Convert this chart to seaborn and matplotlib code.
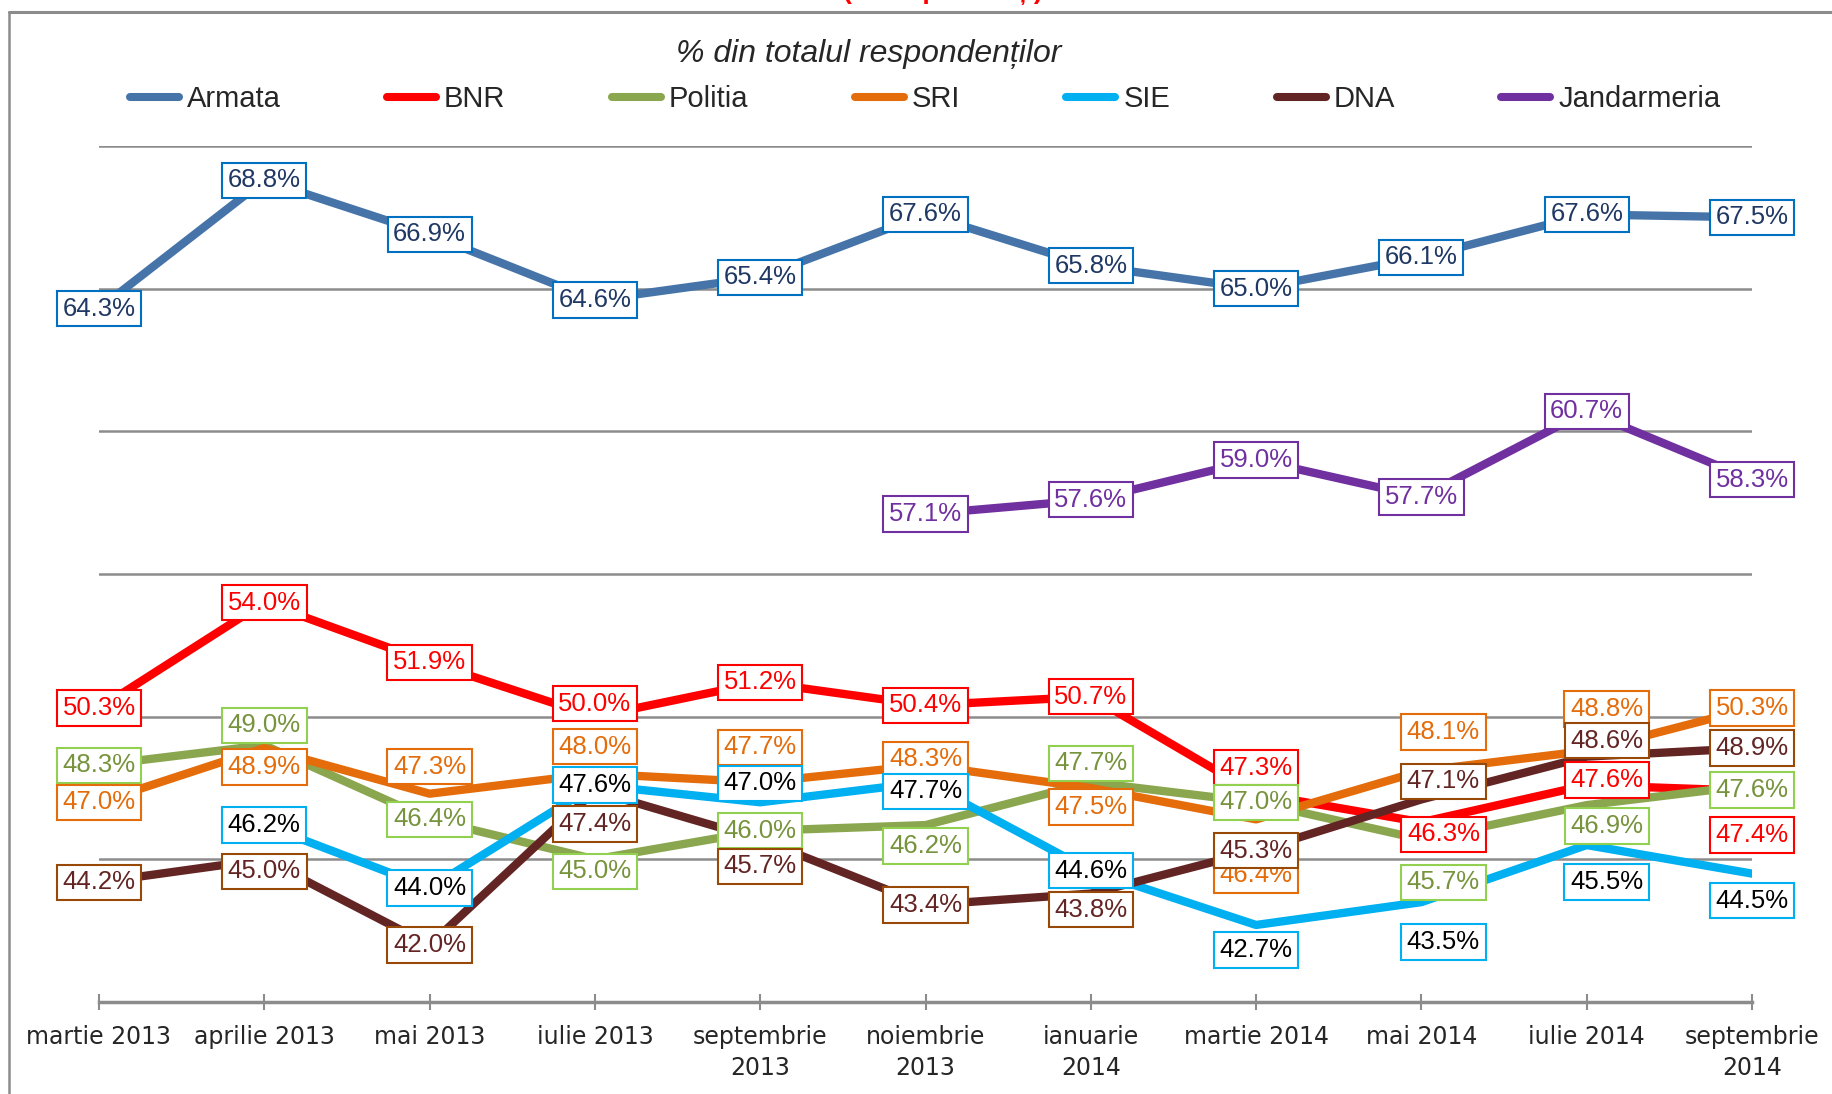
import seaborn as sns
import matplotlib.pyplot as plt
import pandas as pd
import numpy as np
from matplotlib.lines import Line2D

# Data
luni = ["martie 2013", "aprilie 2013", "mai 2013", "iulie 2013", "septembrie 2013",
        "noiembrie 2013", "ianuarie 2014", "martie 2014", "mai 2014", "iulie 2014",
        "septembrie 2014"]
etichete_x = ["martie 2013", "aprilie 2013", "mai 2013", "iulie 2013", "septembrie\n2013",
              "noiembrie\n2013", "ianuarie\n2014", "martie 2014", "mai 2014", "iulie 2014",
              "septembrie\n2014"]

institutii = ["Armata", "BNR", "Politia", "SRI", "SIE", "DNA", "Jandarmeria"]
armata = [64.3, 68.8, 66.9, 64.6, 65.4, 67.6, 65.8, 65.0, 66.1, 67.6, 67.5]
bnr = [50.3, 54.0, 51.9, 50.0, 51.2, 50.4, 50.7, 47.3, 46.3, 47.6, 47.4]
politia = [48.3, 49.0, 46.4, 45.0, 46.0, 46.2, 47.7, 47.0, 45.7, 46.9, 47.6]
sri = [47.0, 48.9, 47.3, 48.0, 47.7, 48.3, 47.5, 46.4, 48.1, 48.8, 50.3]
sie = [np.nan, 46.2, 44.0, 47.6, 47.0, 47.7, 44.6, 42.7, 43.5, 45.5, 44.5]
dna = [44.2, 45.0, 42.0, 47.4, 45.7, 43.4, 43.8, 45.3, 47.1, 48.6, 48.9]
jandarmeria = [np.nan, np.nan, np.nan, np.nan, np.nan, 57.1, 57.6, 59.0, 57.7, 60.7, 58.3]
valori = [armata, bnr, politia, sri, sie, dna, jandarmeria]

# styles
culori_linie = {"Armata": "#4674A9", "BNR": "#FF0000", "Politia": "#8AA64F", "SRI": "#E46C0A",
                "SIE": "#00B0F0", "DNA": "#632523", "Jandarmeria": "#7030A0"}
culori_text = {"Armata": "#1F3864", "BNR": "#FF0000", "Politia": "#77933C", "SRI": "#E46C0A",
               "SIE": "#000000", "DNA": "#632523", "Jandarmeria": "#7030A0"}
culori_chenar = {"Armata": "#0070C0", "BNR": "#FF0000", "Politia": "#92D050", "SRI": "#E46C0A",
                 "SIE": "#00B0F0", "DNA": "#984807", "Jandarmeria": "#7030A0"}

# label offsets in pixels (dy positive = up)
zero = [0] * 11
dx_jos = [0, 0, 0, 0, 0, 0, 0, 0, 22, 20, 0]
offset_y = {"Armata": zero, "Jandarmeria": zero,
            "BNR": [0, 0, 0, 13, 0, 0, 0, 26, -12, 5, -44],
            "Politia": [0, 20, 0, -12, 0, -21, 19, 0, -43, -21, -5],
            "SRI": [0, -19, 27, 27, 35, 6, -19, -56, 39, 42, 0],
            "SIE": [0, 0, 0, 0, 19, -9, 0, -25, -40, -37, -27],
            "DNA": [0, -12, 0, -33, -27, 0, -16, 0, 18, 16, 0]}
offset_x = {"Armata": zero, "Jandarmeria": zero, "BNR": dx_jos, "Politia": dx_jos,
            "SRI": dx_jos, "SIE": dx_jos, "DNA": dx_jos}

rows = []
for nume, vals in zip(institutii, valori):
    for luna, v in zip(luni, vals):
        if not np.isnan(v):
            rows.append({"luna": luna, "procent": v, "institutie": nume})
df = pd.DataFrame(rows)

sns.set_theme(style="white")
plt.rcParams["font.family"] = ["Liberation Sans", "DejaVu Sans"]

fig = plt.figure(figsize=(18.32, 10.94), dpi=100)
ax = fig.add_axes([99 / 1832, 1 - 1002 / 1094, (1752 - 99) / 1832, (1002 - 146) / 1094])

sns.lineplot(data=df, x="luna", y="procent", hue="institutie", hue_order=institutii,
             palette=culori_linie, linewidth=6, legend=False, sort=False, ax=ax)
for ln in ax.lines:
    ln.set_solid_joinstyle("round")
    ln.set_solid_capstyle("round")

ax.set_xlim(0, 10)
ax.set_ylim(40, 70)
ax.set_yticks([45, 50, 55, 60, 65, 70])
ax.yaxis.grid(True, color="#8C8C8C", linewidth=1.8)
ax.tick_params(axis="y", left=False, labelleft=False)
ax.set_xticks(range(11))
ax.set_xticklabels(etichete_x, fontsize=17, family="DejaVu Sans", linespacing=1.37)
ax.tick_params(axis="x", bottom=True, direction="inout", length=11.5, width=1.5,
               color="#8C8C8C", pad=10.7)
for s in ["left", "top", "right"]:
    ax.spines[s].set_visible(False)
ax.spines["bottom"].set_color("#8C8C8C")
ax.spines["bottom"].set_linewidth(2.5)
ax.set_xlabel("")
ax.set_ylabel("")

# data labels
for nume, vals in zip(institutii, valori):
    for i, v in enumerate(vals):
        if np.isnan(v):
            continue
        ax.annotate(f"{v:.1f}%", xy=(i, v), xytext=(offset_x[nume][i], offset_y[nume][i]),
                    textcoords="offset pixels", ha="center", va="center", fontsize=18.5,
                    color=culori_text[nume], zorder=10, annotation_clip=False,
                    bbox=dict(boxstyle="square,pad=0.22", fc="white",
                              ec=culori_chenar[nume], lw=1.5))

# legend
handles = [Line2D([0], [0], color=culori_linie[n], lw=5.8, solid_capstyle="round")
           for n in institutii]
fig.legend(handles, institutii, loc="center left", bbox_to_anchor=(130 / 1832, 1 - 99 / 1094),
           ncol=7, frameon=False, borderaxespad=0, borderpad=0, handlelength=1.68,
           handletextpad=0.27, columnspacing=3.65, fontsize=21)

fig.text(869 / 1832, 1 - 62 / 1094, "% din totalul respondenților", ha="center",
         va="baseline", style="italic", fontsize=23)
# title of the original chart, cut off by the crop
fig.text(943 / 1832, 1 + 1 / 1094, "(% respondenți)", ha="center", va="baseline",
         color="red", weight="bold", fontsize=19)

# outer chart frame (cropped)
fig.add_artist(Line2D([9 / 1832, 9 / 1832], [0, 1 - 12 / 1094], transform=fig.transFigure,
                      color="#8C8C8C", lw=1.8))
fig.add_artist(Line2D([9 / 1832, 1], [1 - 12 / 1094, 1 - 12 / 1094], transform=fig.transFigure,
                      color="#8C8C8C", lw=2.2))

fig.savefig("out.png", dpi=100)
